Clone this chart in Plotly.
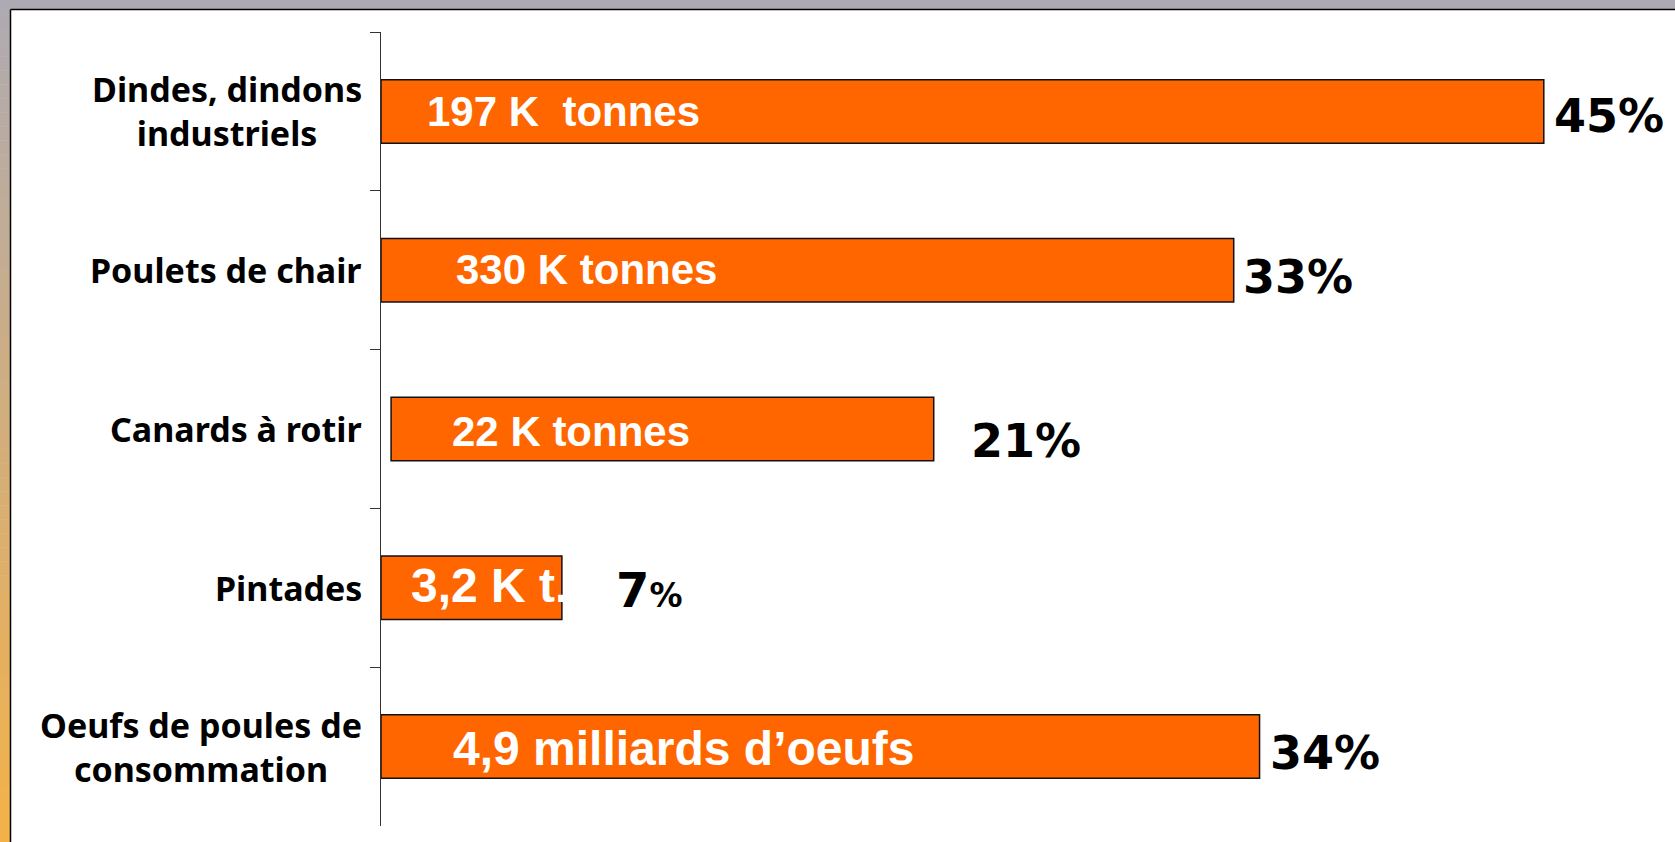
import plotly.graph_objects as go

# ---------------- data ----------------
categories = ["Dindes, dindons industriels", "Poulets de chair", "Canards à rotir",
              "Pintades", "Oeufs de poules de consommation"]
category_labels = ["Dindes, dindons<br>industriels", "Poulets de chair", "Canards à rotir",
                   "Pintades", "Oeufs de poules de<br>consommation"]
percent_values = [45, 33, 21, 7, 34]
volume_labels = ["197 K\u00a0 tonnes", "330 K tonnes", "22 K tonnes", "3,2 K t.",
                 "4,9 milliards d\u2019oeufs"]
percent_labels = ["45%", "33%", "21%", "7<span style='font-size:33px'>%</span>", "34%"]

# ---------------- style ----------------
W, H = 1675, 842
L, R, T, B = 381, 2, 32, 16
PW, PH = W - L - R, H - T - B
BAR_BASE = [0, 0, 0.39, 0, 0]          # the Canards bar is slightly detached from the axis
VOL_XSHIFT = [44, 73, 59, 28, 70]
VOL_YSHIFT = [0, 1, -2, 2, -2]
VOL_SIZE = [42, 42, 42, 48, 48]
PCT_XSHIFT = [8, 7, 35, 52, 8]
PCT_YSHIFT = [-5, -7, -12, -2, -6]
PCT_SIZE = [46, 46, 46, 48, 46]
ORANGE = "#ff6600"


def xp(px):
    return (px - L) / PW


def yp(py):
    return 1 - (py - T) / PH


fig = go.Figure()
fig.add_trace(go.Bar(
    y=categories, x=percent_values, base=BAR_BASE, orientation="h",
    width=0.4, marker=dict(color=ORANGE, line=dict(color="#111111", width=1.5)),
    hoverinfo="skip",
))

ann = []
for i, c in enumerate(categories):
    # category label
    ann.append(dict(xref="paper", yref="y", x=0, y=c, xanchor="right", yanchor="middle",
                    xshift=-17, text=category_labels[i], showarrow=False, align="center",
                    font=dict(family="Noto Sans", size=34, color="black", weight="bold")))
    # volume label inside the bar
    ann.append(dict(xref="x", yref="y", x=BAR_BASE[i], y=c, xanchor="left", yanchor="middle",
                    xshift=VOL_XSHIFT[i], yshift=VOL_YSHIFT[i], text=volume_labels[i],
                    showarrow=False,
                    font=dict(family="Liberation Sans", size=VOL_SIZE[i], color="white",
                              weight="bold")))
    # percentage label after the bar
    ann.append(dict(xref="x", yref="y", x=BAR_BASE[i] + percent_values[i], y=c,
                    xanchor="left", yanchor="middle", xshift=PCT_XSHIFT[i],
                    yshift=PCT_YSHIFT[i], text=percent_labels[i], showarrow=False,
                    font=dict(family="DejaVu Sans", size=PCT_SIZE[i], color="black",
                              weight="bold")))

# background frame: grey top strip, grey->orange gradient left strip, black panel border
shapes = []
top_c = (174, 170, 179)
bot_c = (244, 178, 72)
N = 60
for k in range(N):
    y0 = k * H / N
    y1 = (k + 1) * H / N + 0.5
    t = (k + 0.5) / N
    col = "rgb(%d,%d,%d)" % tuple(round(a + (b - a) * t) for a, b in zip(top_c, bot_c))
    shapes.append(dict(type="rect", xref="paper", yref="paper", x0=xp(0), x1=xp(10),
                       y0=yp(y0), y1=yp(y1), fillcolor=col, line=dict(width=0), layer="below"))
shapes.append(dict(type="rect", xref="paper", yref="paper", x0=xp(0), x1=xp(W),
                   y0=yp(0), y1=yp(9), fillcolor="rgb(174,170,179)", line=dict(width=0),
                   layer="below"))
shapes.append(dict(type="line", xref="paper", yref="paper", x0=xp(10.5), x1=xp(W),
                   y0=yp(9.5), y1=yp(9.5), line=dict(color="black", width=1.5)))
shapes.append(dict(type="line", xref="paper", yref="paper", x0=xp(10.5), x1=xp(10.5),
                   y0=yp(9.5), y1=yp(H), line=dict(color="black", width=1.5)))

fig.update_layout(
    width=W, height=H,
    margin=dict(l=L, r=R, t=T, b=B),
    paper_bgcolor="white", plot_bgcolor="rgba(0,0,0,0)",
    showlegend=False,
    annotations=ann, shapes=shapes,
    xaxis=dict(range=[0, 50], visible=False, fixedrange=True),
    yaxis=dict(autorange="reversed", showticklabels=False, tickson="boundaries",
               ticks="outside", ticklen=10, tickcolor="#333333", tickwidth=1,
               showline=True, linecolor="#333333", linewidth=1, showgrid=False,
               zeroline=False, fixedrange=True),
)

fig.write_html("out.html", config={"displayModeBar": False},
               post_script="document.body.style.margin='0';document.body.style.overflow='hidden';")
